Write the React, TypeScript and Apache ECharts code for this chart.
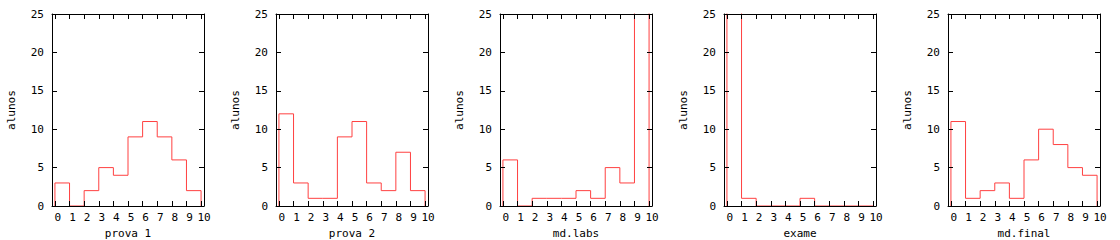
import React, { useEffect, useRef } from "react";
import * as echarts from "echarts";

// ---- data ----
const panelNames = ["prova 1", "prova 2", "md.labs", "exame", "md.final"];
const binStarts = [0, 1, 2, 3, 4, 5, 6, 7, 8, 9];
const binWidth = 1;
const prova1 = [3, 0, 2, 5, 4, 9, 11, 9, 6, 2];
const prova2 = [12, 3, 1, 1, 9, 11, 3, 2, 7, 2];
const mdLabs = [6, 0, 1, 1, 1, 2, 1, 5, 3, 31];
const exame = [49, 1, 0, 0, 0, 1, 0, 0, 0, 0];
const mdFinal = [11, 1, 2, 3, 1, 6, 10, 8, 5, 4];
const xTickValues = [0, 1, 2, 3, 4, 5, 6, 7, 8, 9, 10];
const yLabel = "alunos";
const yMin = 0;
const yMax = 25;
const yStep = 5;

const panelValues = [prova1, prova2, mdLabs, exame, mdFinal];

function stepPoints(values: number[]): number[][] {
  const pts: number[][] = [[binStarts[0], 0]];
  values.forEach((v, i) => {
    pts.push([binStarts[i], v]);
    pts.push([binStarts[i] + binWidth, v]);
  });
  pts.push([binStarts[binStarts.length - 1] + binWidth, 0]);
  return pts;
}

const FONT = "DejaVu Sans Mono";
const RED = "#ff4040";

export default function App() {
  const ref = useRef<HTMLDivElement>(null);
  useEffect(() => {
    if (!ref.current) return;
    const chart = echarts.init(ref.current, undefined, { renderer: "svg" });
    const grids: any[] = [];
    const xAxes: any[] = [];
    const yAxes: any[] = [];
    const series: any[] = [];
    const line = { show: true, onZero: false, lineStyle: { color: "#000", width: 1 } };
    const tick = {
      show: true,
      inside: true,
      length: 5,
      lineStyle: { color: "#000", width: 1 },
    };
    panelNames.forEach((name, i) => {
      grids.push({
        left: 52 + 224 * i,
        top: 14,
        width: 152,
        height: 192,
        outerBoundsMode: "none",
        containLabel: false,
      });
      // bottom x
      xAxes.push({
        type: "value",
        gridIndex: i,
        position: "bottom",
        min: -0.2,
        max: 10.2,
        z: 5,
        axisLine: line,
        axisTick: { ...tick, customValues: xTickValues },
        axisLabel: {
          customValues: xTickValues,
          margin: 6,
          padding: [0, 0, 0, 6],
          fontFamily: FONT,
          fontSize: 11,
          color: "#000",
        },
        splitLine: { show: false },
        name,
        nameLocation: "middle",
        nameGap: 22,
        nameTextStyle: { fontFamily: FONT, fontSize: 11, color: "#000" },
      });
      // top x
      xAxes.push({
        type: "value",
        gridIndex: i,
        position: "top",
        min: -0.2,
        max: 10.2,
        z: 5,
        axisLine: line,
        axisTick: { ...tick, customValues: xTickValues },
        axisLabel: { show: false, customValues: xTickValues },
        splitLine: { show: false },
      });
      // left y
      yAxes.push({
        type: "value",
        gridIndex: i,
        position: "left",
        min: yMin,
        max: yMax,
        interval: yStep,
        z: 5,
        axisLine: line,
        axisTick: tick,
        axisLabel: {
          margin: 8,
          fontFamily: FONT,
          fontSize: 11,
          color: "#000",
        },
        splitLine: { show: false },
        name: yLabel,
        nameLocation: "middle",
        nameGap: 35,
        nameRotate: 90,
        nameTextStyle: { fontFamily: FONT, fontSize: 11, color: "#000" },
      });
      // right y
      yAxes.push({
        type: "value",
        gridIndex: i,
        position: "right",
        min: yMin,
        max: yMax,
        interval: yStep,
        z: 5,
        axisLine: line,
        axisTick: tick,
        axisLabel: { show: false },
        splitLine: { show: false },
      });
      series.push({
        type: "line",
        xAxisIndex: 2 * i,
        yAxisIndex: 2 * i,
        data: stepPoints(panelValues[i]),
        showSymbol: false,
        symbol: "none",
        clip: true,
        lineStyle: { color: RED, width: 1 },
        z: 2,
      });
    });
    chart.setOption({
      animation: false,
      backgroundColor: "#fff",
      textStyle: { fontFamily: FONT, fontSize: 11, color: "#000" },
      grid: grids,
      xAxis: xAxes,
      yAxis: yAxes,
      series,
    });
    return () => chart.dispose();
  }, []);
  return (
    <div
      ref={ref}
      style={{ position: "fixed", left: 0, top: 0, width: 1120, height: 240 }}
    />
  );
}
